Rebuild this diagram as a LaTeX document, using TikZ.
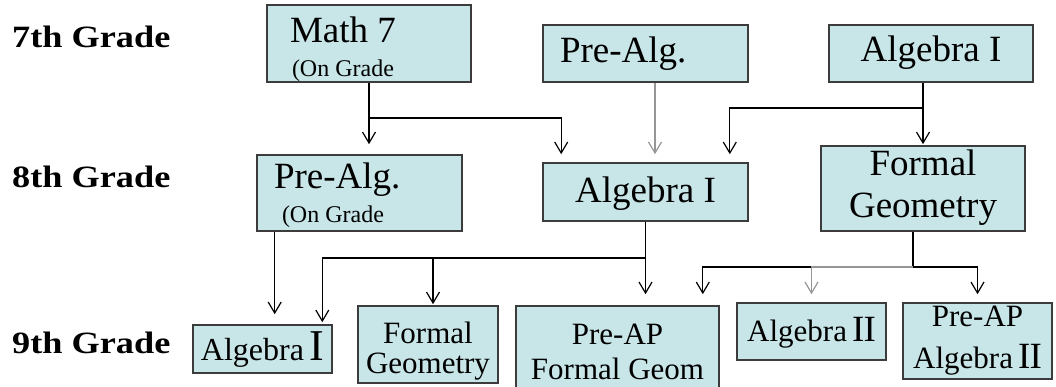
\documentclass[tikz,border=0pt]{standalone}
\usepackage{fontspec}
\setmainfont{Liberation Serif}
\usetikzlibrary{arrows.meta}
\definecolor{boxfill}{RGB}{200,230,232}
\definecolor{boxline}{RGB}{60,60,60}
\definecolor{thinline}{RGB}{150,150,150}
\tikzset{
  course/.style={draw=boxline, line width=1.6pt, fill=boxfill, anchor=base, inner ysep=0pt},
  grade/.style={anchor=base west, inner sep=0pt, font=\bfseries\fontsize{31}{31}\selectfont},
  link/.style={line width=1.2pt, -{Straight Barb[length=11pt,width=13pt]}},
  busline/.style={line width=1.2pt},
}
\newcommand{\bigI}[1]{{\fontsize{#1}{#1}\selectfont I}}
\begin{document}
\begin{tikzpicture}[x=1pt,y=-1pt]
  \useasboundingbox (0,0) rectangle (1056,387);
  \clip (0,0) rectangle (1056,387);
  % grade labels
  \node[grade] (g7) at (12,48) {\scalebox{1.17}[1]{7th Grade}};
  \node[grade] (g8) at (12,188) {\scalebox{1.17}[1]{8th Grade}};
  \node[grade] (g9) at (12,353) {\scalebox{1.17}[1]{9th Grade}};
  % 7th grade
  \node[course, align=flush left, text width=158pt, inner xsep=23pt, text height=38pt, text depth=39pt,
        font=\fontsize{37}{34}\selectfont] (m7) at (369,43)
        {Math 7\\\hspace*{2pt}{\fontsize{24}{34}\selectfont(On Grade}};
  \node[course, align=flush left, text width=171pt, inner xsep=17pt, text height=38pt, text depth=19pt,
        font=\fontsize{37}{37}\selectfont] (pa7) at (645.5,63) {Pre-Alg.};
  \node[course, align=center, minimum width=204pt, text height=37pt, text depth=20pt,
        font=\fontsize{37}{37}\selectfont] (a17) at (931,62) {Algebra I};
  % 8th grade
  \node[course, align=flush left, text width=171pt, inner xsep=17pt, text height=34pt, text depth=42pt,
        font=\fontsize{37}{34}\selectfont] (pa8) at (359.5,189)
        {Pre-Alg.\\\hspace*{8pt}{\fontsize{24}{34}\selectfont(On Grade}};
  \node[course, align=center, minimum width=205pt, text height=40pt, text depth=18pt,
        font=\fontsize{37}{37}\selectfont] (a18) at (645.5,203) {Algebra I};
  \node[course, align=center, minimum width=204pt, text height=72pt, text depth=13pt,
        font=\fontsize{37}{42}\selectfont] (fg8) at (923,218) {Formal\\Geometry};
  % 9th grade
  \node[course, align=center, minimum width=139pt, text height=35pt, text depth=13pt,
        font=\fontsize{32}{32}\selectfont] (a19) at (262.5,360) {Algebra\,\bigI{44}};
  \node[course, align=center, minimum width=140pt, text height=67pt, text depth=10pt,
        font=\fontsize{31}{30}\selectfont] (fg9) at (428,373) {Formal\\Geometry};
  \node[course, align=center, minimum width=203pt, text height=73pt, text depth=21pt,
        font=\fontsize{31}{35}\selectfont] (pfg9) at (617.5,379) {Pre-AP\\Formal Geom};
  \node[course, align=center, minimum width=149pt, text height=38pt, text depth=19pt,
        font=\fontsize{31}{31}\selectfont] (a29) at (811.5,341) {Algebra\,\bigI{37}\kern-1pt\bigI{37}};
  \node[course, align=center, minimum width=149pt, text height=65pt, text depth=11pt,
        font=\fontsize{31}{42}\selectfont] (pa29) at (977.5,368) {Pre-AP\\Algebra\,\bigI{37}\kern-1pt\bigI{37}};
  % bus points
  \coordinate (m7bus) at (369,118);
  \coordinate (a17bus) at (922,108);
  \coordinate (a18bus) at (645.5,258);
  \coordinate (fg8bus) at (913,267);
  % 7th to 8th
  \draw[link, shorten >=10pt] (m7.south) -- (m7.south |- pa8.north);
  \draw[link, shorten >=8pt] (m7bus) -| ([xshift=19pt]a18.north west);
  \draw[link, thinline, shorten >=8pt] ([xshift=9.5pt]pa7.south) -- ([xshift=9.5pt]pa7.south |- a18.north);
  \draw[link, shorten >=1pt] (a17.south -| fg8.north) -- (fg8.north);
  \draw[link, shorten >=8pt] (a17bus) -| ([xshift=-19pt]a18.north east);
  % 8th to 9th
  \draw[link, shorten >=10pt] ([xshift=18.5pt]pa8.south west) -- ([xshift=18.5pt]pa8.south west |- a19.north);
  \draw[link, shorten >=11pt] (a18.south) -- (a18.south |- pfg9.north);
  \draw[link, shorten >=2pt] (a18bus) -| ([xshift=-10.5pt]a19.north east);
  \draw[link, shorten >=1pt] (a18bus) -| ([xshift=5pt]fg9.north);
  \draw[busline] ([xshift=-10pt]fg8.south) -- (fg8bus);
  \draw[link, shorten >=11pt] (fg8bus) -| ([xshift=-17pt]pfg9.north east);
  \draw[link, thinline, shorten >=8pt] (fg8bus) -| (a29.north);
  \draw[link, shorten >=8pt] (fg8bus) -| (pa29.north);
\end{tikzpicture}
\end{document}
